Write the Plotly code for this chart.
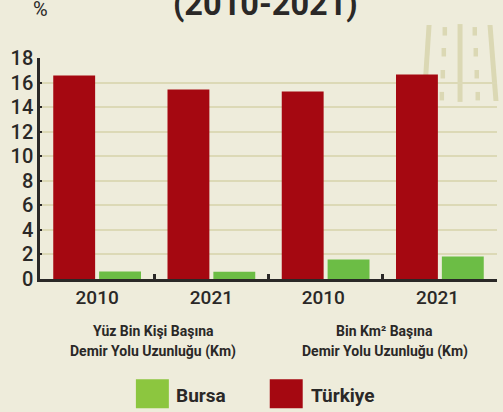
import plotly.graph_objects as go

W, H = 503, 412
categories = ["2010", "2021", "2010 ", "2021 "]
turkiye = [16.57, 15.43, 15.27, 16.65]
bursa = [0.61, 0.6, 1.59, 1.83]
y_ticks = list(range(0, 19, 2))
title = "(2010-2021)"
unit = "%"
group_1 = ["Yüz Bin Kişi Başına", "Demir Yolu Uzunluğu (Km)"]
group_2 = ["Bin Km² Başına", "Demir Yolu Uzunluğu (Km)"]

BG = "#EEECDB"
INK = "#2A2827"
GRID = "#DCD9B6"
ROAD = "#DBD8B4"
RED = "#A50811"
GREEN = "#6CBD45"
GREEN_LEG = "#8CC63F"
FONT = "Roboto, sans-serif"

L, R, T, B = 40, 497.5, 58, 279.5


def px(x):
    return (x - L) / (R - L)


def py(y):
    return (B - y) / (B - T)


fig = go.Figure()
fig.add_bar(x=categories, y=turkiye, name="Türkiye", marker=dict(color=RED, line_width=0))
fig.add_bar(x=categories, y=bursa, name="Bursa", marker=dict(color=GREEN, line_width=0))

shapes = []


def rect(x0, y0, x1, y1, color, layer="below"):
    shapes.append(dict(type="rect", xref="paper", yref="paper", x0=px(x0), x1=px(x1),
                       y0=py(y1), y1=py(y0), fillcolor=color, line_width=0, layer=layer))


def quad(pts, color):
    path = "M " + " L ".join(f"{px(a):.5f},{py(b):.5f}" for a, b in pts) + " Z"
    shapes.append(dict(type="path", xref="paper", yref="paper", path=path,
                       fillcolor=color, line_width=0, layer="below"))


# road icon (decoration)
quad([(427, 25), (432, 25), (427, 101), (422, 101)], ROAD)
quad([(488, 25), (493, 25), (499, 101), (494, 101)], ROAD)
rect(458, 24, 463, 102, ROAD)
for a, b in [(443, 27), (442, 48), (441, 70), (440, 92)]:
    rect(a, b, a + 4.5, b + 8.5, ROAD)
for a, b in [(473, 27), (474, 48), (475, 70), (476, 92)]:
    rect(a, b, a + 4.5, b + 8.5, ROAD)

# legend swatches
rect(136, 380, 169, 409, GREEN_LEG, "above")
rect(270, 380, 303, 409, RED, "above")


def note(x, y, text, size, bold=False, anchor="center", family=FONT):
    t = f"<b>{text}</b>" if bold else text
    fig.add_annotation(xref="paper", yref="paper", x=px(x), y=py(y), text=t, showarrow=False,
                       xanchor=anchor, yanchor="middle", align="center",
                       font=dict(size=size, color=INK, family=family))


note(266, 4, title, 32.5, True)
note(41, 9, unit, 20, False)
note(153.5, 332, group_1[0], 14, True)
note(153.5, 352, group_1[1], 14, True)
note(385, 332, group_2[0], 14, True)
note(385, 352, group_2[1], 14, True)
note(174, 396, "Bursa", 19, True, "left")
note(309, 396, "Türkiye", 19, True, "left")

fig.update_layout(
    width=W, height=H, autosize=False,
    paper_bgcolor=BG, plot_bgcolor=BG,
    margin=dict(l=L, r=W - R, t=T, b=H - B, pad=0),
    barmode="group", bargap=0.197, bargroupgap=0.087,
    showlegend=False, shapes=shapes,
    font=dict(family=FONT, color=INK),
)
fig.update_xaxes(type="category", tickson="boundaries", ticks="inside", ticklen=5, tickwidth=2.5,
                 tickcolor=INK, showline=True, linecolor=INK, linewidth=2.5, showgrid=False,
                 tickfont=dict(size=19, color=INK, family=FONT, weight=500), ticklabelstandoff=-1)
fig.update_yaxes(range=[0, 18], tickvals=y_ticks, ticks="inside", ticklen=2, tickwidth=1.5,
                 tickcolor=INK, showline=True, linecolor=INK, linewidth=2.5, showgrid=True,
                 gridcolor=GRID, gridwidth=2, zeroline=False,
                 tickfont=dict(size=20, color=INK, family=FONT, weight=500))

fig.write_html(
    "out.html",
    config={"displayModeBar": False},
    post_script="document.documentElement.style.background='" + BG + "';"
                "document.body.style.margin='0';document.body.style.overflow='hidden';",
)
